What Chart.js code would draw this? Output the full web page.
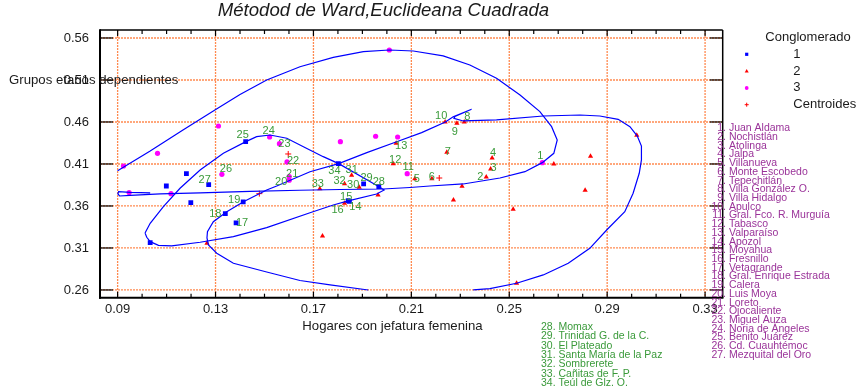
<!DOCTYPE html>
<html>
<head>
<meta charset="utf-8">
<script src="https://cdn.jsdelivr.net/npm/chart.js@4/dist/chart.umd.min.js"></script>
<style>
  html, body { margin: 0; padding: 0; background: #ffffff; }
  canvas { display: block; }
</style>
</head>
<body>
<canvas id="grafica" width="858" height="392"></canvas>
<script>
// Municipios numerados (1-34)
const municipios = [
  "Juan Aldama", "Nochistlán", "Atolinga", "Jalpa", "Villanueva", "Monte Escobedo",
  "Tepechitlán", "Villa González O.", "Villa Hidalgo", "Apulco", "Gral. Fco. R. Murguía",
  "Tabasco", "Valparaíso", "Apozol", "Moyahua", "Fresnillo", "Vetagrande",
  "Gral. Enrique Estrada", "Calera", "Luis Moya", "Loreto", "Ojocaliente", "Miguel Auza",
  "Noria de Ángeles", "Benito Juárez", "Cd. Cuauhtémoc", "Mezquital del Oro",
  "Momax", "Trinidad G. de la C.", "El Plateado", "Santa María de la Paz", "Sombrerete",
  "Cañitas de F. P.", "Teúl de Glz. O."
];
// Hogares con jefatura femenina (x) y grupos etarios dependientes (y)
const munX = [0.2635, 0.2406, 0.2424, 0.2430, 0.2114, 0.2184, 0.2245, 0.2316, 0.2286, 0.2238,
              0.2083, 0.2026, 0.2038, 0.1847, 0.1842, 0.1827, 0.1384, 0.1340, 0.1413, 0.1601,
              0.1601, 0.1592, 0.1561, 0.1521, 0.1423, 0.1326, 0.1272, 0.1967, 0.1905, 0.1887,
              0.1856, 0.1827, 0.1726, 0.1802];
const munY = [0.4115, 0.3945, 0.4040, 0.4171, 0.3925, 0.3925, 0.4239, 0.4600, 0.4584, 0.4600,
              0.3985, 0.4104, 0.4346, 0.3654, 0.3663, 0.3632, 0.3398, 0.3508, 0.3648, 0.3906,
              0.3949, 0.4124, 0.4342, 0.4421, 0.4366, 0.3977, 0.3854, 0.3830, 0.3862, 0.3823,
              0.3965, 0.3865, 0.3806, 0.4104];
const munGrupo = [3, 2, 2, 2, 2, 2, 2, 2, 2, 2,
                  3, 2, 2, 1, 1, 2, 1, 1, 1, 3,
                  3, 3, 3, 3, 1, 3, 1, 1, 1, 2,
                  2, 2, 2, 1];
// Resto de municipios (sin número)
const otrosX = [0.1181, 0.1099, 0.1199, 0.1033,
                0.1312, 0.1063, 0.0924, 0.0947, 0.1118, 0.1810, 0.1954, 0.2044, 0.2010,
                0.1265, 0.2307, 0.1964, 0.2272, 0.1737, 0.2682, 0.2832, 0.3021, 0.2810, 0.2516, 0.2530];
const otrosY = [0.3985, 0.3838, 0.3639, 0.3163,
                0.4552, 0.4227, 0.4076, 0.3759, 0.3747, 0.4366, 0.4430, 0.4421, 0.5457,
                0.3156, 0.3835, 0.3731, 0.3671, 0.3243, 0.4100, 0.4192, 0.4442, 0.3787, 0.3561, 0.2680];
const otrosGrupo = [1, 1, 1, 1,
                    3, 3, 3, 3, 3, 3, 3, 3, 3,
                    2, 2, 2, 2, 2, 2, 2, 2, 2, 2, 2];
// Centroides de los conglomerados
const centroX = [0.1479, 0.2214, 0.1597];
const centroY = [0.3747, 0.3933, 0.4219];

// Contornos de los conglomerados
const contorno1X = [0.1012, 0.1019, 0.1033, 0.1067, 0.1121, 0.1237, 0.1373, 0.1509, 0.1686, 0.1781,
                    0.1842, 0.1958, 0.1989, 0.1968, 0.1803, 0.1740, 0.1659, 0.1591, 0.1523, 0.1468,
                    0.1424, 0.1332, 0.1237, 0.1155, 0.1087, 0.1033, 0.1012];
const contorno1Y = [0.3279, 0.3227, 0.3175, 0.3132, 0.3124, 0.3168, 0.3235, 0.3342, 0.3520, 0.3612,
                    0.3660, 0.3743, 0.3790, 0.3830, 0.4104, 0.4187, 0.4306, 0.4406, 0.4445, 0.4425,
                    0.4366, 0.4227, 0.4029, 0.3811, 0.3592, 0.3394, 0.3279];
const contorno2X = [0.1924, 0.1768, 0.1645, 0.1509, 0.1373, 0.1305, 0.1271, 0.1265, 0.1267, 0.1291,
                    0.1346, 0.1414, 0.1509, 0.1550, 0.1686, 0.1803, 0.1918, 0.2040, 0.2142, 0.2239,
                    0.2271, 0.2346, 0.2278, 0.2274, 0.2312, 0.2448, 0.2639, 0.2789, 0.2870, 0.2945,
                    0.2993, 0.3023, 0.3040, 0.3040, 0.3031, 0.3006, 0.2972, 0.2898, 0.2829, 0.2741,
                    0.2639, 0.2530, 0.2421, 0.2353];
const contorno2Y = [0.2600, 0.2660, 0.2713, 0.2814, 0.2918, 0.3037, 0.3136, 0.3219, 0.3294, 0.3413,
                    0.3532, 0.3651, 0.3790, 0.3838, 0.4008, 0.4104, 0.4235, 0.4365, 0.4473, 0.4600,
                    0.4663, 0.4751, 0.4666, 0.4642, 0.4612, 0.4624, 0.4671, 0.4683, 0.4671, 0.4632,
                    0.4544, 0.4433, 0.4314, 0.4148, 0.3989, 0.3751, 0.3532, 0.3314, 0.3096, 0.2918,
                    0.2779, 0.2680, 0.2615, 0.2600];
const contorno3X = [0.0900, 0.1033, 0.1167, 0.1304, 0.1400, 0.1509, 0.1645, 0.1781, 0.1904, 0.2010,
                    0.2108, 0.2230, 0.2339, 0.2448, 0.2544, 0.2625, 0.2673, 0.2696, 0.2682, 0.2635,
                    0.2564, 0.2462, 0.2312, 0.2176, 0.2094, 0.1985, 0.1809, 0.1645, 0.1441, 0.1237,
                    0.1074, 0.0951, 0.0908, 0.0901, 0.0904, 0.0951, 0.1033];
const contorno3Y = [0.4020, 0.4255, 0.4505, 0.4755, 0.4927, 0.5100, 0.5258, 0.5370, 0.5437, 0.5457,
                    0.5445, 0.5386, 0.5279, 0.5120, 0.4921, 0.4723, 0.4544, 0.4386, 0.4227, 0.4116,
                    0.4008, 0.3933, 0.3862, 0.3838, 0.3820, 0.3802, 0.3796, 0.3787, 0.3773, 0.3757,
                    0.3743, 0.3727, 0.3719, 0.3745, 0.3770, 0.3761, 0.3755];

// Ejes
const xTicks = [0.09, 0.13, 0.17, 0.21, 0.25, 0.29, 0.33];
const xTickLabels = ["0.09", "0.13", "0.17", "0.21", "0.25", "0.29", "0.33"];
const yTicks = [0.26, 0.31, 0.36, 0.41, 0.46, 0.51, 0.56];
const yTickLabels = ["0.26", "0.31", "0.36", "0.41", "0.46", "0.51", "0.56"];

// Desplazamiento (px) de cada número respecto a su punto
const etiquetaDx = [-2, -6, 3, 1, 2, 0, 1, 3, -2, -4, 1, 2, 5, 6, -2, -7, 6, -10, -9, -8,
                    3, 6, 5, -1, -3, 4, -4, 0, 3, -6, 0, -5, -2, -4];
const etiquetaDy = [-7, 0, -1, -5, 0, -2, 0, -5, 9, -6, -7, -4, 3, 6, -4, 7, 0, 0, -2, 2,
                    -3, -1, 0, -6, -7, -5, -5, -5, -6, -2, -5, -3, -5, 7];

const FONT = '"Liberation Sans", Arial, Helvetica, sans-serif';
const AZUL = '#0000ff', ROJO = '#ff0000', MAGENTA = '#ff00ff';
const VERDE = '#3a9a3a', MORADO = '#9a3399', NARANJA = '#ff8a50';

const pares = (xs, ys) => xs.map((v, i) => ({ x: v, y: ys[i] }));
const delGrupo = g => [
  ...munX.map((v, i) => munGrupo[i] === g ? { x: v, y: munY[i] } : null),
  ...otrosX.map((v, i) => otrosGrupo[i] === g ? { x: v, y: otrosY[i] } : null)
].filter(Boolean);

function texto(ctx, s, x, y, size, color, align, style) {
  ctx.font = (style || '') + ' ' + size + 'px ' + FONT;
  ctx.fillStyle = color;
  ctx.textAlign = align || 'left';
  ctx.textBaseline = 'middle';
  ctx.fillText(s, x, y);
}
function linea(ctx, x1, y1, x2, y2) {
  ctx.beginPath(); ctx.moveTo(x1, y1); ctx.lineTo(x2, y2); ctx.stroke();
}

// Cuadrícula punteada, marco, marcas, rótulos y leyenda
const decorado = {
  id: 'decorado',
  beforeDatasetsDraw(chart) {
    const { ctx, chartArea: a, scales: { x, y } } = chart;
    ctx.save();
    ctx.strokeStyle = NARANJA;
    ctx.lineWidth = 1.3;
    ctx.setLineDash([2, 1]);
    xTicks.forEach(v => { const p = x.getPixelForValue(v); linea(ctx, p, a.top, p, a.bottom); });
    yTicks.forEach(v => { const p = y.getPixelForValue(v); linea(ctx, a.left, p, a.right, p); });
    ctx.restore();
  },
  afterDraw(chart) {
    const { ctx, chartArea: a, scales: { x, y } } = chart;
    ctx.save();
    ctx.setLineDash([]);
    ctx.strokeStyle = '#000';
    // marco
    ctx.lineWidth = 1.5;
    linea(ctx, a.left, a.top, a.right, a.top);
    linea(ctx, a.right, a.top, a.right, a.bottom);
    ctx.lineWidth = 2;
    linea(ctx, a.left, a.top - 0.75, a.left, a.bottom + 1);
    linea(ctx, a.left - 1, a.bottom, a.right + 0.75, a.bottom);
    // marcas
    ctx.lineWidth = 1.2;
    yTicks.forEach(v => {
      const p = y.getPixelForValue(v);
      linea(ctx, a.left, p, a.left + 13, p);
      linea(ctx, a.right, p, a.right - 13, p);
    });
    for (let k = 0; k <= 24; k++) {
      const v = 0.09 + k * 0.01;
      const p = x.getPixelForValue(v);
      const largo = k % 4 === 0 ? 6 : 4;
      linea(ctx, p, a.top, p, a.top + largo);
      linea(ctx, p, a.bottom, p, a.bottom - largo);
    }

    // números de municipio junto a cada punto
    munX.forEach((v, i) => {
      const px = x.getPixelForValue(v) + etiquetaDx[i];
      const py = y.getPixelForValue(munY[i]) + etiquetaDy[i];
      texto(ctx, String(i + 1), px, py, 11, VERDE, 'center');
    });

    // títulos
    texto(ctx, 'Métodod de Ward,Euclideana Cuadrada', 217.7, 10.5, 18.6, '#1a1a1a', 'left', 'italic');
    texto(ctx, 'Hogares con jefatura femenina', 302.3, 326, 13.2, '#1a1a1a');
    texto(ctx, 'Grupos etarios dependientes', 9, 80, 13.2, '#1a1a1a');

    // leyenda
    texto(ctx, 'Conglomerado', 808, 37.7, 13, '#1a1a1a', 'center');
    const mx = 746.7;
    ctx.fillStyle = AZUL; ctx.fillRect(mx - 1.6, 54.3 - 1.6, 3.2, 3.2);
    ctx.fillStyle = ROJO; ctx.beginPath();
    ctx.moveTo(mx, 69); ctx.lineTo(mx + 2, 72.6); ctx.lineTo(mx - 2, 72.6); ctx.closePath(); ctx.fill();
    ctx.fillStyle = MAGENTA; ctx.beginPath(); ctx.arc(mx, 88, 1.9, 0, Math.PI * 2); ctx.fill();
    ctx.strokeStyle = ROJO; ctx.lineWidth = 1;
    linea(ctx, mx - 2, 104.7, mx + 2, 104.7); linea(ctx, mx, 102.7, mx, 106.7);
    texto(ctx, '1', 793.3, 54, 13, '#1a1a1a');
    texto(ctx, '2', 793.3, 71, 13, '#1a1a1a');
    texto(ctx, '3', 793.3, 87.5, 13, '#1a1a1a');
    texto(ctx, 'Centroides', 793.3, 104.5, 13, '#1a1a1a');

    // listas de municipios
    municipios.slice(0, 27).forEach((n, i) => {
      ctx.font = '10.5px ' + FONT;
      const num = (i + 1) + '.';
      const w = ctx.measureText(num).width;
      texto(ctx, num + ' ' + n, 726 - w, 128.3 + i * 8.72, 10.5, MORADO);
    });
    municipios.slice(27).forEach((n, i) => {
      texto(ctx, (i + 28) + '. ' + n, 541, 327.3 + i * 9.28, 10.5, VERDE);
    });
    ctx.restore();
  }
};

const contorno = (xs, ys) => ({
  data: pares(xs, ys), showLine: true, borderColor: AZUL, borderWidth: 1.2,
  pointRadius: 0, tension: 0, fill: false
});

new Chart(document.getElementById('grafica'), {
  type: 'scatter',
  data: {
    datasets: [
      contorno(contorno1X, contorno1Y),
      contorno(contorno2X, contorno2Y),
      contorno(contorno3X, contorno3Y),
      { label: '1', data: delGrupo(1), pointStyle: 'rect', pointRadius: 3.4, backgroundColor: AZUL, borderColor: AZUL, borderWidth: 0 },
      { label: '2', data: delGrupo(2), pointStyle: 'triangle', pointRadius: 3, backgroundColor: ROJO, borderColor: ROJO, borderWidth: 0 },
      { label: '3', data: delGrupo(3), pointStyle: 'circle', pointRadius: 2.6, backgroundColor: MAGENTA, borderColor: MAGENTA, borderWidth: 0 },
      { label: 'Centroides', data: pares(centroX, centroY), pointStyle: 'cross', pointRadius: 3, borderColor: ROJO, borderWidth: 1 }
    ]
  },
  options: {
    responsive: false,
    animation: false,
    events: [],
    devicePixelRatio: 1,
    layout: { padding: { left: 0, right: 135.3, top: 30, bottom: 0 } },
    plugins: { legend: { display: false }, tooltip: { enabled: false }, title: { display: false } },
    scales: {
      x: {
        type: 'linear', min: 0.0828, max: 0.3372,
        afterBuildTicks: s => { s.ticks = xTicks.map(v => ({ value: v })); },
        afterFit: s => { s.height = 94.3; },
        grid: { display: false, drawTicks: false },
        border: { display: false },
        ticks: {
          autoSkip: false, maxRotation: 0, padding: 4,
          font: { family: FONT, size: 13 }, color: '#1a1a1a',
          callback: (v, i) => xTickLabels[i]
        }
      },
      y: {
        type: 'linear', min: 0.2508, max: 0.5695,
        afterBuildTicks: s => { s.ticks = yTicks.map(v => ({ value: v })); },
        afterFit: s => { s.width = 100; },
        grid: { display: false, drawTicks: false },
        border: { display: false },
        ticks: {
          autoSkip: false, padding: 11,
          font: { family: FONT, size: 13 }, color: '#1a1a1a',
          callback: (v, i) => yTickLabels[i]
        }
      }
    }
  },
  plugins: [decorado]
});
</script>
</body>
</html>
